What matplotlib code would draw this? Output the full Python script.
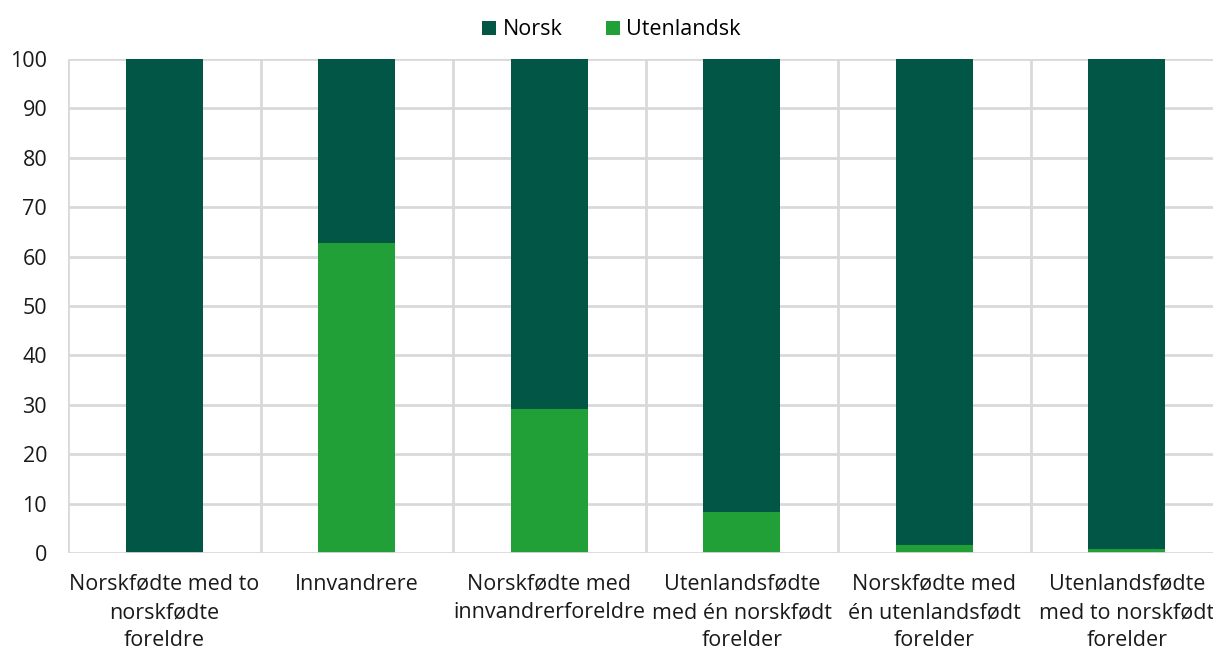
import matplotlib.pyplot as plt
import numpy as np

plt.rcParams['font.family'] = ['Open Sans', 'DejaVu Sans']

# ── data ──────────────────────────────────────────────────────────────
categories = [
    "Norskfødte med to\nnorskfødte\nforeldre",
    "Innvandrere",
    "Norskfødte med\ninnvandrerforeldre",
    "Utenlandsfødte\nmed én norskfødt\nforelder",
    "Norskfødte med\nén utenlandsfødt\nforelder",
    "Utenlandsfødte\nmed to norskfødt\nforelder",
]
utenlandsk = [0.0, 62.8, 29.2, 8.3, 1.7, 0.8]
norsk = [100 - v for v in utenlandsk]

c_norsk = "#025645"
c_utl = "#21a038"
grid_c = "#d9d9d9"
fs = 15.5

fig = plt.figure(figsize=(12.13, 6.51), dpi=100)
# axes extends slightly past the right edge, as in the reference
ax = fig.add_axes([68 / 1213, 1 - 553 / 651, (1223 - 68) / 1213, (553 - 59) / 651])

xs = np.arange(len(categories))
ax.bar(xs, utenlandsk, width=0.4, color=c_utl, label="Utenlandsk", zorder=3)
ax.bar(xs, norsk, width=0.4, bottom=utenlandsk, color=c_norsk, label="Norsk", zorder=3)

ax.set_xlim(-0.5, len(categories) - 0.5)
ax.set_ylim(0, 100)
ax.set_yticks(range(0, 101, 10))
ax.set_xticks(xs)
ax.set_xticklabels(categories, fontsize=fs, color="#1a1a1a", linespacing=1.45)
ax.tick_params(axis="y", labelsize=fs, labelcolor="#1a1a1a", length=0, pad=15)
ax.tick_params(axis="x", length=0, pad=15)

# gridlines: horizontal at ticks, vertical at category boundaries
for y in range(10, 101, 10):
    ax.axhline(y, color=grid_c, lw=2, zorder=1)
for b in np.arange(-0.5, len(categories), 1.0):
    ax.axvline(b, color=grid_c, lw=2, zorder=1)
for s in ax.spines.values():
    s.set_visible(False)
ax.axhline(0, color=grid_c, lw=2, zorder=4)

handles, labels = ax.get_legend_handles_labels()
fig.legend(handles[::-1], labels[::-1], loc="upper center", bbox_to_anchor=(0.504, 1.0),
           ncol=2, frameon=False, fontsize=fs, handlelength=0.65, handleheight=0.65,
           handletextpad=0.3, columnspacing=2.0)

plt.savefig("out.png", dpi=100)
